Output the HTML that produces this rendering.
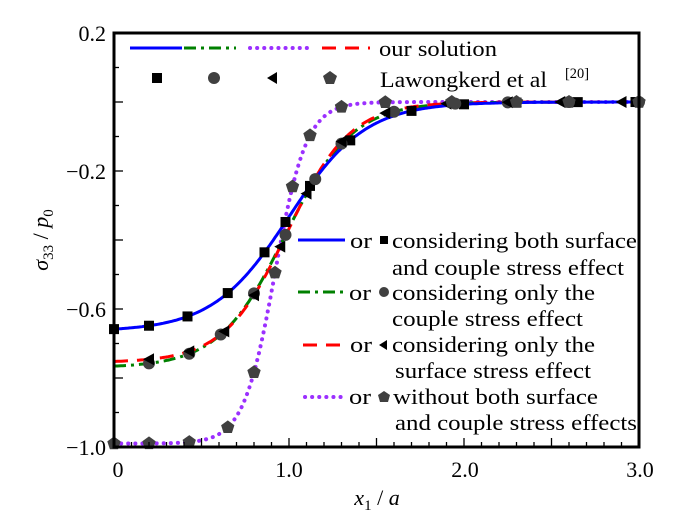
<!DOCTYPE html>
<html><head><meta charset="utf-8"><style>
html,body{margin:0;padding:0;background:#fff;}
svg{display:block;}
text{font-family:"Liberation Serif","Times New Roman",Times,serif;}
</style></head><body>
<svg id="s" width="700" height="522" xmlns="http://www.w3.org/2000/svg">
<rect width="700" height="522" fill="#fff"/>
<g id="curves"></g>
<g id="marks" fill="#404040"></g>
<rect x="114" y="33" width="525" height="414" fill="none" stroke="#000" stroke-width="3"/>
<g id="ticks" stroke="#000" stroke-width="1.3"></g>
<g font-size="22" fill="#000">
<text x="106" y="41" text-anchor="end">0.2</text>
<text x="106" y="179" text-anchor="end">−0.2</text>
<text x="106" y="317" text-anchor="end">−0.6</text>
<text x="106" y="455" text-anchor="end">−1.0</text>
<text x="118" y="477" text-anchor="middle">0</text>
<text x="289" y="477" text-anchor="middle">1.0</text>
<text x="465" y="477" text-anchor="middle">2.0</text>
<text x="640" y="477" text-anchor="middle">3.0</text>
<text x="377" y="505" text-anchor="middle" font-style="italic">x<tspan font-size="15" dy="5" font-style="normal">1</tspan><tspan dy="-5" font-style="normal"> / </tspan>a</text>
<text transform="translate(48,240) rotate(-90)" text-anchor="middle" font-style="italic">σ<tspan font-size="15" dy="5" font-style="normal">33</tspan><tspan dy="-5" font-style="normal"> / </tspan>p<tspan font-size="15" dy="5" font-style="normal">0</tspan></text>
<text x="379" y="56" textLength="118" lengthAdjust="spacingAndGlyphs">our solution</text>
<text x="380" y="87" textLength="167" lengthAdjust="spacingAndGlyphs">Lawongkerd et al</text>
<text x="565" y="78" font-size="15" textLength="24" lengthAdjust="spacingAndGlyphs">[20]</text>
<text x="350" y="248" textLength="22" lengthAdjust="spacingAndGlyphs">or</text><text x="392" y="248" textLength="245" lengthAdjust="spacingAndGlyphs">considering both surface</text>
<text x="392" y="275" textLength="232" lengthAdjust="spacingAndGlyphs">and couple stress effect</text>
<text x="349" y="300" textLength="22" lengthAdjust="spacingAndGlyphs">or</text><text x="392" y="300" textLength="203" lengthAdjust="spacingAndGlyphs">considering only the</text>
<text x="392" y="326" textLength="191" lengthAdjust="spacingAndGlyphs">couple stress effect</text>
<text x="350" y="352" textLength="22" lengthAdjust="spacingAndGlyphs">or</text><text x="392" y="352" textLength="203" lengthAdjust="spacingAndGlyphs">considering only the</text>
<text x="395" y="378" textLength="196" lengthAdjust="spacingAndGlyphs">surface stress effect</text>
<text x="349" y="404" textLength="22" lengthAdjust="spacingAndGlyphs">or</text><text x="393" y="404" textLength="205" lengthAdjust="spacingAndGlyphs">without both surface</text>
<text x="395" y="430" textLength="242" lengthAdjust="spacingAndGlyphs">and couple stress effects</text>
</g>
<g stroke-width="3" fill="none">
<line x1="130" y1="48" x2="182" y2="48" stroke="#0000ff"/>
<line x1="184" y1="48" x2="236" y2="48" stroke="#008000" stroke-dasharray="12,5,3,5"/>
<line x1="250" y1="48" x2="312" y2="48" stroke="#9b30ff" stroke-dasharray="0.1,7" stroke-linecap="round" stroke-width="4"/>
<line x1="322" y1="48" x2="370" y2="48" stroke="#ff0000" stroke-dasharray="14,9"/>
<line x1="298" y1="240" x2="345" y2="240" stroke="#0000ff"/>
<line x1="298" y1="292" x2="345" y2="292" stroke="#008000" stroke-dasharray="12,5,3,5"/>
<line x1="303" y1="345" x2="345" y2="345" stroke="#ff0000" stroke-dasharray="14,9"/>
<line x1="305" y1="397" x2="345" y2="397" stroke="#9b30ff" stroke-dasharray="0.1,7" stroke-linecap="round" stroke-width="4"/>
</g>
<g fill="#000">
<rect x="152" y="73" width="10" height="10"/>
<rect x="380" y="236" width="8" height="8"/>
</g>
<g fill="#404040">
<circle cx="214" cy="78" r="6"/>
<circle cx="384" cy="292" r="5"/>
<polygon points="267,78 277,72 277,84" fill="#000"/>
<polygon points="379,345 387,340 387,350" fill="#000"/>
<polygon points="330,71 337,76 334,84 326,84 323,76"/>
<polygon points="384,391 390,395 388,402 380,402 378,395"/>
</g>
<script>
var X=function(x){return 114+x*175},Y=function(v){return 33+(0.2-v)/1.2*414};
function f(A,c,w){return function(x){return A/(1+Math.exp((x-c)/w));}}
var blue=f(-0.665,1.0,0.218),green=f(-0.77,0.98,0.19),red=f(-0.755,0.99,0.18),pur=f(-0.99,0.92,0.09);
function path(fn){var d="";for(var i=0;i<=300;i++){var x=i*0.01;d+=(i?"L":"M")+X(x).toFixed(1)+","+Y(fn(x)).toFixed(1);}return d;}
var g=document.getElementById("curves"),ns="http://www.w3.org/2000/svg";
function add(p,fn,col,da,w,cap){var e=document.createElementNS(ns,"path");e.setAttribute("d",path(fn));e.setAttribute("stroke",col);e.setAttribute("fill","none");e.setAttribute("stroke-width",w||3);if(da)e.setAttribute("stroke-dasharray",da);if(cap)e.setAttribute("stroke-linecap",cap);p.appendChild(e);}
add(g,pur,"#9b30ff","0.1,7",4,"round");
add(g,green,"#008000","12,5,3,5");
add(g,red,"#ff0000","14,9");
add(g,blue,"#0000ff");
var m=document.getElementById("marks");
function el(t,a,fill){var e=document.createElementNS(ns,t);for(var k in a)e.setAttribute(k,a[k]);if(fill)e.setAttribute("fill",fill);m.appendChild(e);}
[0,0.2,0.42,0.65,0.86,0.98,1.12,1.35,1.7,2.0,2.3,2.65,2.98].forEach(function(x){el("rect",{x:X(x)-5,y:Y(blue(x))-5,width:10,height:10},"#000");});
[0.2,0.43,0.61,0.8,0.98,1.15,1.3,1.6,1.95,2.25,2.6,3.0].forEach(function(x){el("circle",{cx:X(x),cy:Y(green(x)),r:6});});
[0.2,0.43,0.63,0.8,0.95,1.1,1.3,1.55,1.9,2.25,2.55,2.9].forEach(function(x){var cx=X(x),cy=Y(red(x));el("polygon",{points:(cx-6)+","+cy+" "+(cx+5)+","+(cy-6)+" "+(cx+5)+","+(cy+6)},"#000");});
[0,0.2,0.43,0.65,0.8,0.92,1.02,1.12,1.3,1.55,1.93,2.3,2.6,3.0].forEach(function(x){var cx=X(x),cy=Y(pur(x)),p="";for(var k=0;k<5;k++){var a=-Math.PI/2+k*2*Math.PI/5;p+=(cx+7*Math.cos(a)).toFixed(1)+","+(cy+7*Math.sin(a)).toFixed(1)+" ";}el("polygon",{points:p});});
var t=document.getElementById("ticks");
function ln(a,b,c,d){var e=document.createElementNS(ns,"line");e.setAttribute("x1",a);e.setAttribute("y1",b);e.setAttribute("x2",c);e.setAttribute("y2",d);t.appendChild(e);}
for(var i=0;i<=12;i++){var y=Y(0.2-i*0.1);ln(114,y,114+(i%2==0?9:5),y);}
for(var i=0;i<=30;i++){var x=X(i*0.1);ln(x,447,x,447-(i%5==0?9:5));}
</script>
</svg>
</body></html>
